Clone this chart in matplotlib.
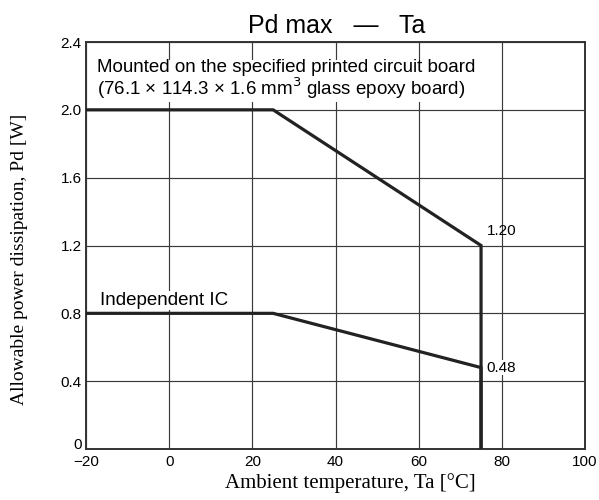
import matplotlib
matplotlib.use("Agg")
import matplotlib.pyplot as plt

board_x = [-20, 25, 75, 75]
board_y = [2.0, 2.0, 1.20, 0.0]
ic_x = [-20, 25, 75, 75]
ic_y = [0.8, 0.8, 0.48, 0.0]
xticks = [-20, 0, 20, 40, 60, 80, 100]
xticklabels = ["\u221220", "0", "20", "40", "60", "80", "100"]
yticks = [0, 0.4, 0.8, 1.2, 1.6, 2.0, 2.4]
yticklabels = ["0", "0.4", "0.8", "1.2", "1.6", "2.0", "2.4"]

sans = "Liberation Sans"
serif = "Liberation Serif"

fig = plt.figure(figsize=(5.99, 5.0), dpi=100)
ax = fig.add_axes([86 / 599, 1 - 449 / 500, 499 / 599, 407 / 500])

ax.set_xlim(-20, 100)
ax.set_ylim(0, 2.4)
ax.set_xticks(xticks)
ax.set_xticklabels(xticklabels, fontfamily=sans, fontsize=11)
ax.set_yticks(yticks)
ax.set_yticklabels(yticklabels, fontfamily=sans, fontsize=11)
ax.get_yticklabels()[0].set_verticalalignment("baseline")
ax.tick_params(axis="x", length=0, pad=4.5)
ax.tick_params(axis="y", length=0, pad=3)
ax.grid(True, color="#3a3a3a", linewidth=0.85)
for s in ax.spines.values():
    s.set_linewidth(1.4)
    s.set_color("#333333")

ax.plot(board_x, board_y, color="#222222", linewidth=2.3, solid_joinstyle="miter", zorder=3)
ax.plot(ic_x, ic_y, color="#222222", linewidth=2.3, solid_joinstyle="miter", zorder=3)

ax.text(-17.4, 2.087, "Mounted on the specified printed circuit board\n(76.1 \u00d7 114.3 \u00d7 1.6 mm$^3$ glass epoxy board)",
        fontfamily=sans, fontsize=13.5, va="baseline", ha="left", linespacing=1.0,
        bbox=dict(facecolor="white", edgecolor="none", pad=0.5))
ax.text(-16.6, 0.85, "Independent IC", fontfamily=sans, fontsize=13.5, va="baseline", ha="left",
        bbox=dict(facecolor="white", edgecolor="none", pad=0.5))
ax.text(76.4, 1.285, "1.20", fontfamily=sans, fontsize=11, va="center", ha="left")
ax.text(76.4, 0.48, "0.48", fontfamily=sans, fontsize=11, va="center", ha="left",
        bbox=dict(facecolor="white", edgecolor="none", pad=0.3))

ax.set_xlabel("Ambient temperature, Ta [\u00b0C]", fontfamily=serif, fontsize=15)
ax.xaxis.set_label_coords(0.529, -0.06)
ax.set_ylabel("Allowable power dissipation, Pd [W]", fontfamily=serif, fontsize=14)
ax.yaxis.set_label_coords(-0.116, 0.467)

fig.text(337 / 599, 1 - 33 / 500, "Pd max   \u2014   Ta", fontfamily=sans, fontsize=18,
         ha="center", va="baseline")

fig.savefig("out.png", dpi=100)
